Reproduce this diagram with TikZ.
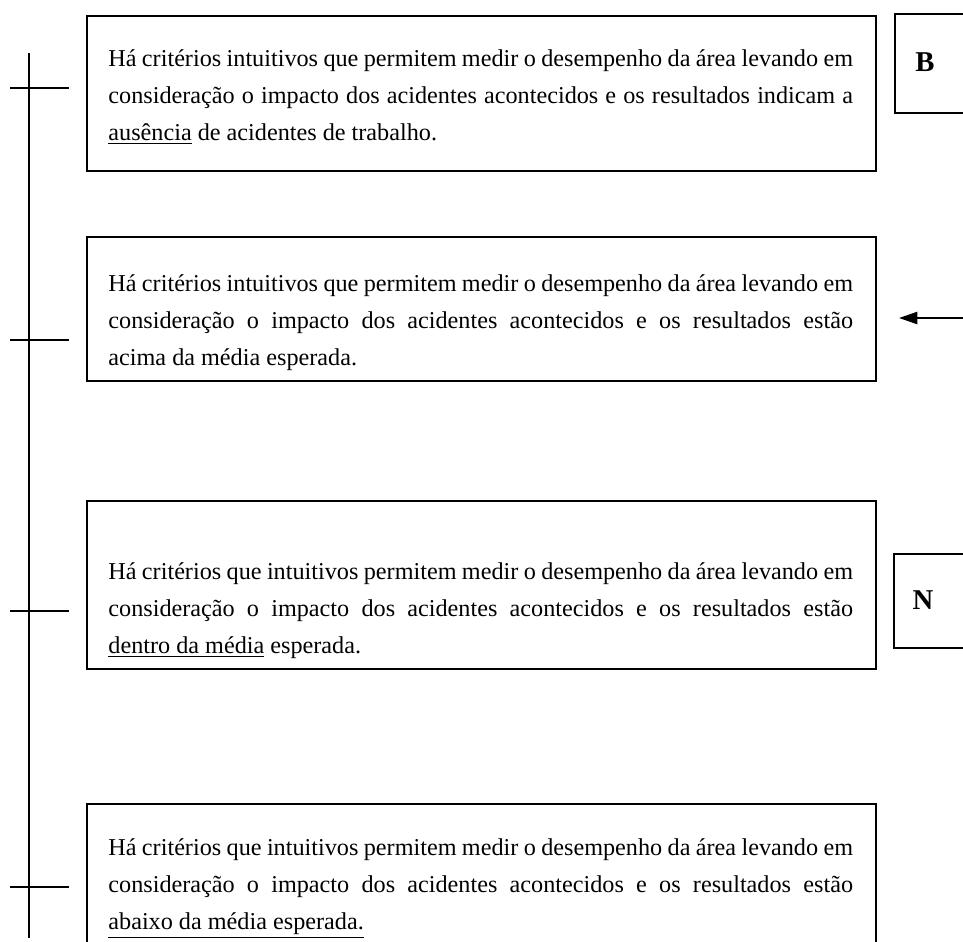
\documentclass[tikz,border=0pt]{standalone}
\usepackage{fontspec}
\setmainfont{Liberation Serif}
\usetikzlibrary{arrows.meta}

\newcommand{\linha}[1]{\makebox[363pt][s]{#1}}

\tikzset{
  caixa/.style={draw, thick, inner sep=0pt},
  letra/.style={inner sep=0pt, font=\fontsize{14}{16}\selectfont\bfseries},
  texto/.style={anchor=base west, inner sep=0pt, align=left, font=\fontsize{11.8}{18}\selectfont},
  marca/.style={thick}
}

\begin{document}
\begin{tikzpicture}[x=0.4875pt,y=-0.4875pt]
		\useasboundingbox (0,0) rectangle (963,941);
		% caixas de texto
		\node[caixa, minimum width=789*0.4875pt, minimum height=155*0.4875pt, anchor=north west] (c1) at (86,15) {};
		\node[caixa, minimum width=789*0.4875pt, minimum height=144*0.4875pt, anchor=north west] (c2) at (86,236) {};
		\node[caixa, minimum width=789*0.4875pt, minimum height=168*0.4875pt, anchor=north west] (c3) at (86,500) {};
		\node[caixa, minimum width=789*0.4875pt, minimum height=160*0.4875pt, anchor=north west] (c4) at (86,803) {};
		% textos (ancorados na linha de base da ultima linha)
		\node[texto] (t1) at (108,140) {\linha{Há critérios intuitivos que permitem medir o desempenho da área levando em}\\
			\linha{consideração o impacto dos acidentes acontecidos e os resultados indicam a}\\
			\underline{ausência} de acidentes de trabalho.};
		\node[texto] (t2) at (108,365) {\linha{Há critérios intuitivos que permitem medir o desempenho da área levando em}\\
			\linha{consideração o impacto dos acidentes acontecidos e os resultados estão}\\
			acima da média esperada.};
		\node[texto] (t3) at (108,653) {\linha{Há critérios que intuitivos permitem medir o desempenho da área levando em}\\
			\linha{consideração o impacto dos acidentes acontecidos e os resultados estão}\\
			\underline{dentro da média} esperada.};
		\node[texto] (t4) at (108,929) {\linha{Há critérios que intuitivos permitem medir o desempenho da área levando em}\\
			\linha{consideração o impacto dos acidentes acontecidos e os resultados estão}\\
			\underline{abaixo da média esperada.}};
		% letras
		\node[caixa, minimum width=100*0.4875pt, minimum height=99*0.4875pt, anchor=north west] (cb) at (894,13) {};
		\node[letra] (b) at (925,62) {B};
		\node[caixa, minimum width=100*0.4875pt, minimum height=94*0.4875pt, anchor=north west] (cn) at (893,553) {};
		\node[letra] (n) at (923,600) {N};
		% seta
		\coordinate (s) at (963,318);
		\coordinate (p) at (899,318);
		\draw[thick, -{Triangle[length=9pt,width=6pt]}] (s) -- (p);
		% escala
		\coordinate (topo) at (29,53);
		\coordinate (base) at (29,938);
		\draw[marca] (topo) -- (base);
		\foreach \y in {88,340,611,887} {
			\draw[marca] (10,\y) -- (69,\y);
		}
	\end{tikzpicture}
\end{document}
